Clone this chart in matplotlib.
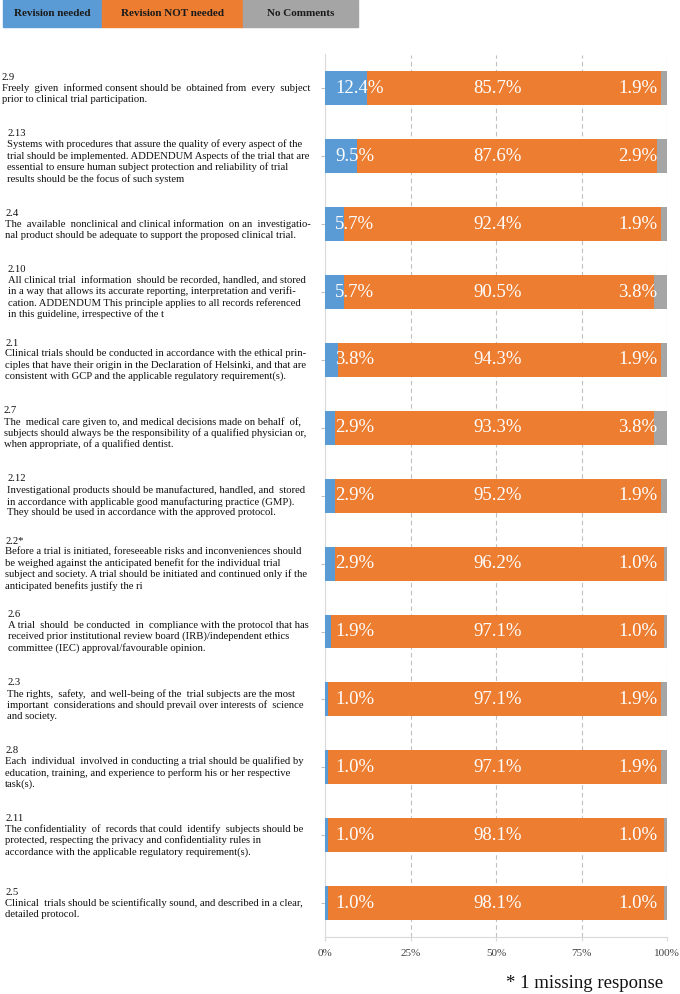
import matplotlib.pyplot as plt
import matplotlib.transforms as mtransforms
from matplotlib.patches import Rectangle

# principle numbers, top to bottom
codes = ["2.9", "2.13", "2.4", "2.10", "2.1", "2.7", "2.12", "2.2*", "2.6", "2.3", "2.8", "2.11", "2.5"]

texts = [
    "Freely  given  informed consent should be  obtained from  every  subject\nprior to clinical trial participation.",
    "Systems with procedures that assure the quality of every aspect of the\ntrial should be implemented. ADDENDUM Aspects of the trial that are\nessential to ensure human subject protection and reliability of trial\nresults should be the focus of such system",
    "The  available  nonclinical and clinical information  on an  investigatio-\nnal product should be adequate to support the proposed clinical trial.",
    "All clinical trial  information  should be recorded, handled, and stored\nin a way that allows its accurate reporting, interpretation and verifi-\ncation. ADDENDUM This principle applies to all records referenced\nin this guideline, irrespective of the t",
    "Clinical trials should be conducted in accordance with the ethical prin-\nciples that have their origin in the Declaration of Helsinki, and that are\nconsistent with GCP and the applicable regulatory requirement(s).",
    "The  medical care given to, and medical decisions made on behalf  of,\nsubjects should always be the responsibility of a qualified physician or,\nwhen appropriate, of a qualified dentist.",
    "Investigational products should be manufactured, handled, and  stored\nin accordance with applicable good manufacturing practice (GMP).\nThey should be used in accordance with the approved protocol.",
    "Before a trial is initiated, foreseeable risks and inconveniences should\nbe weighed against the anticipated benefit for the individual trial\nsubject and society. A trial should be initiated and continued only if the\nanticipated benefits justify the ri",
    "A trial  should  be conducted  in  compliance with the protocol that has\nreceived prior institutional review board (IRB)/independent ethics\ncommittee (IEC) approval/favourable opinion.",
    "The rights,  safety,  and well-being of the  trial subjects are the most\nimportant  considerations and should prevail over interests of  science\nand society.",
    "Each  individual  involved in conducting a trial should be qualified by\neducation, training, and experience to perform his or her respective\ntask(s).",
    "The confidentiality  of  records that could  identify  subjects should be\nprotected, respecting the privacy and confidentiality rules in\naccordance with the applicable regulatory requirement(s).",
    "Clinical  trials should be scientifically sound, and described in a clear,\ndetailed protocol.",
]

revision_needed = [12.4, 9.5, 5.7, 5.7, 3.8, 2.9, 2.9, 2.9, 1.9, 1.0, 1.0, 1.0, 1.0]
revision_not_needed = [85.7, 87.6, 92.4, 90.5, 94.3, 93.3, 95.2, 96.2, 97.1, 97.1, 97.1, 98.1, 98.1]
no_comments = [1.9, 2.9, 1.9, 3.8, 1.9, 3.8, 1.9, 1.0, 1.0, 1.9, 1.9, 1.0, 1.0]

series_names = ["Revision needed", "Revision NOT needed", "No Comments"]
colors = ["#5B9BD5", "#ED7D31", "#A5A5A5"]
serif = "Liberation Serif"

W, H = 680, 994
fig = plt.figure(figsize=(W / 100, H / 100), dpi=100)
ax = fig.add_axes([325 / W, 1 - 937 / H, 342 / W, (937 - 54.5) / H])

y = list(range(len(codes)))
left = [0] * len(y)
for vals, c in zip([revision_needed, revision_not_needed, no_comments], colors):
    ax.barh(y, vals, left=left, height=0.5, color=c, zorder=3)
    left = [l + v for l, v in zip(left, vals)]

# white value labels
for i in y:
    ax.text(3.0, i, f"{revision_needed[i]:.1f}%", color="white", fontsize=13.5,
            family=serif, ha="left", va="center", zorder=4)
    ax.text(50.5, i, f"{revision_not_needed[i]:.1f}%", color="white", fontsize=13.5,
            family=serif, ha="center", va="center", zorder=4)
    ax.text(97.2, i, f"{no_comments[i]:.1f}%", color="white", fontsize=13.5,
            family=serif, ha="right", va="center", zorder=4)

ax.set_xlim(0, 100)
ax.set_ylim(len(codes) - 0.5, -0.5)
ax.set_xticks([0, 25, 50, 75, 100])
ax.set_xticklabels(["0%", "25%", "50%", "75%", "100%"], family=serif, fontsize=8, color="#404040")
ax.set_yticks(y)
ax.set_yticklabels([])
ax.tick_params(axis="y", length=3, color="#BFBFBF", width=0.8)
ax.tick_params(axis="x", length=3, color="#D9D9D9", width=0.8, pad=6)
ax.grid(axis="x", color="#BFBFBF", linestyle=(0, (4, 3)), linewidth=0.8, zorder=0)
for s in ["top", "right"]:
    ax.spines[s].set_visible(False)
for s in ["left", "bottom"]:
    ax.spines[s].set_color("#D9D9D9")
    ax.spines[s].set_linewidth(0.8)

# statement labels to the left of the bars
indents = [2, 7, 5, 8, 5, 4, 7, 5, 8, 7, 5, 5, 5]
trans = mtransforms.blended_transform_factory(fig.transFigure, ax.transData)
for i, (code, txt) in enumerate(zip(codes, texts)):
    fig.text(indents[i] / W, i, code + "\n" + txt, transform=trans, ha="left", va="center",
             family=serif, fontsize=7.7, linespacing=1.22, color="#111111")

# legend strip across the top
boxes = [(3, 102), (102, 243), (243, 358)]
for (x0, x1), name, c in zip(boxes, series_names, colors):
    fig.add_artist(Rectangle((x0 / W, 1 - 27 / H), (x1 - x0) / W, 27 / H,
                             transform=fig.transFigure, color=c))
    fig.text((x0 + x1) / 2 / W, 1 - 14 / H, name, ha="center", va="center",
             family=serif, fontsize=8, fontweight="bold", color="#1a1a1a")

fig.text(663 / W, 1 - 983 / H, "* 1 missing response", ha="right", va="center",
         family=serif, fontsize=13.5, color="#111111")

fig.savefig("out.png", dpi=100)
